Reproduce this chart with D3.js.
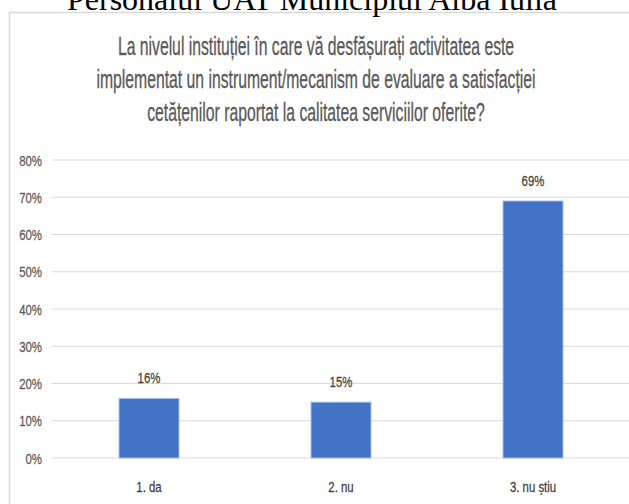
<!DOCTYPE html>
<html>
<head>
<meta charset="utf-8">
<script src="https://cdn.jsdelivr.net/npm/d3@7"></script>
<style>
  body { margin: 0; background: #fff; }
  svg { display: block; }
</style>
</head>
<body>
<div id="wrapper"></div>
<script>
// data
const categories = ["1. da", "2. nu", "3. nu știu"];
const values = [0.16, 0.15, 0.69];
const yTicks = [0, 0.1, 0.2, 0.3, 0.4, 0.5, 0.6, 0.7, 0.8];
const heading = "Personalul UAT Municipiul Alba Iulia";
const titleLines = [
  "La nivelul instituției în care vă desfășurați activitatea este",
  "implementat un instrument/mecanism de evaluare a satisfacției",
  "cetățenilor raportat la calitatea serviciilor oferite?"
];

const width = 629;
const height = 504;
const font = "'Liberation Sans', Arial, sans-serif";

const svg = d3.select("#wrapper")
              .append("svg")
              .attr("width", width)
              .attr("height", height);

// squeezed text, the picture is narrowed sideways
function label(x, y, txt, size, sx, fill, anchor) {
  return svg.append("text")
      .attr("transform", "translate(" + x + "," + y + ") scale(" + sx + ",1)")
      .attr("text-anchor", anchor || "middle")
      .style("font-family", font)
      .style("font-size", size + "px")
      .style("fill", fill)
      .text(txt);
}

// chart frame (runs off right and bottom)
svg.append("rect")
   .attr("x", 9.5).attr("y", 12.5)
   .attr("width", 700).attr("height", 600)
   .style("fill", "none")
   .style("stroke", "#d9d9d9")
   .style("stroke-width", 1.5);

// heading of the page, cut at the top
svg.append("text")
   .attr("x", 312).attr("y", 10)
   .attr("text-anchor", "middle")
   .style("font-family", "'Liberation Serif', 'Times New Roman', serif")
   .style("font-size", "32px")
   .style("fill", "#000")
   .text(heading);

// chart title
titleLines.forEach(function(t, i) {
  label(316, 55 + i * 33, t, 25, 0.63, "#595959")
    .style("stroke", "#595959").style("stroke-width", 0.3);
});

const x = d3.scaleBand()
            .domain(categories)
            .range([53, 629])
            .paddingInner(0.6875)
            .paddingOuter(0.34375);

const y = d3.scaleLinear()
            .domain([0, 0.8])
            .range([458, 160]);

// gridlines
svg.selectAll(".grid")
   .data(yTicks)
   .enter().append("line")
   .attr("class", "grid")
   .attr("x1", 52).attr("x2", 629)
   .attr("y1", d => y(d)).attr("y2", d => y(d))
   .style("stroke", "#d9d9d9")
   .style("stroke-width", 1);

// y tick labels
yTicks.forEach(function(t) {
  label(42, y(t) + 5.5, d3.format(".0%")(t), 15, 0.76, "#595959", "end")
    .style("stroke", "#595959").style("stroke-width", 0.25);
});

// bars
svg.selectAll(".bar")
   .data(values)
   .enter().append("rect")
   .attr("class", "bar")
   .attr("x", (d, i) => x(categories[i]))
   .attr("y", d => y(d))
   .attr("width", x.bandwidth())
   .attr("height", d => y(0) - y(d))
   .style("fill", "#4472c4")
   .style("stroke", "#a9c1ea")
   .style("stroke-width", 1);

// value labels
values.forEach(function(v, i) {
  label(x(categories[i]) + x.bandwidth() / 2, y(v) - 15, d3.format(".0%")(v), 15, 0.76, "#404040")
    .style("stroke", "#404040").style("stroke-width", 0.25);
});

// category labels
categories.forEach(function(c) {
  label(x(c) + x.bandwidth() / 2, 492, c, 15, 0.76, "#404040")
    .style("stroke", "#404040").style("stroke-width", 0.25);
});
</script>
</body>
</html>
